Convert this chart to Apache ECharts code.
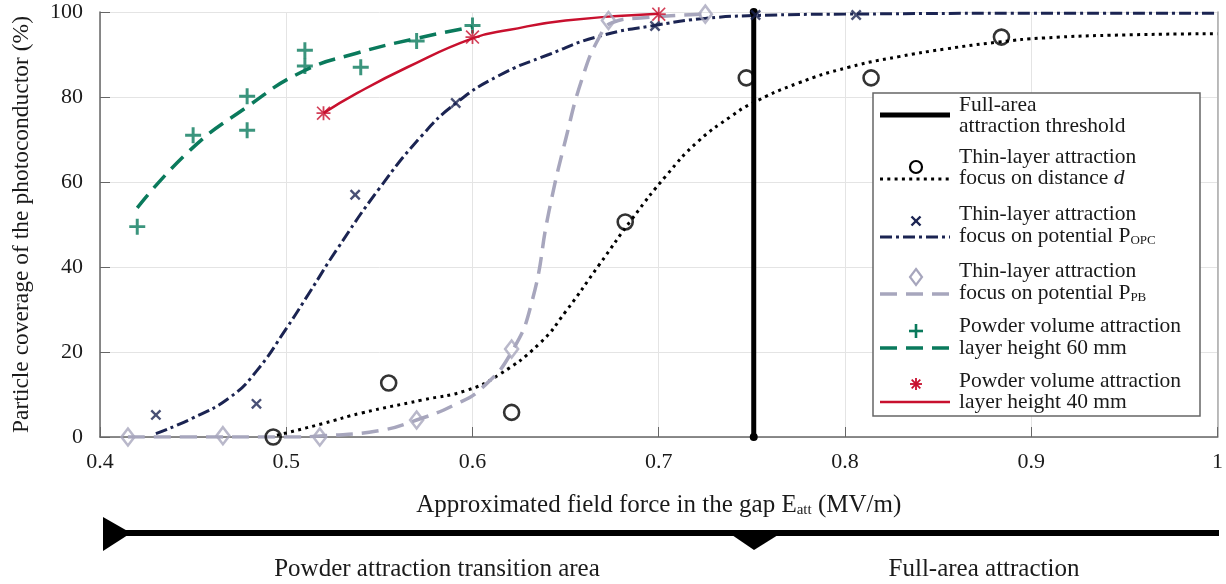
<!DOCTYPE html>
<html>
<head>
<meta charset="utf-8">
<title>Particle coverage vs field force</title>
<script src="https://cdn.jsdelivr.net/npm/echarts@6/dist/echarts.min.js"></script>
<style>
  html, body { margin: 0; padding: 0; background: #fff; }
  #chart { width: 1226px; height: 584px; }
</style>
</head>
<body>
<div id="chart"></div>
<script>
// ===== data =====
const X_MIN = 0.4, X_MAX = 1, X_STEP = 0.1
const Y_MIN = 0, Y_MAX = 100, Y_STEP = 20

// full-area attraction threshold
const thresholdLine = [[0.751, 0], [0.751, 100]]

// thin layer, focus on distance d
const distPoints = [[0.493, 0], [0.555, 12.7], [0.621, 5.8], [0.682, 50.6], [0.747, 84.5], [0.814, 84.5], [0.884, 94.1]]
const distFit = [[0.495, 0.4], [0.52, 3.2], [0.54, 5.6], [0.573, 8.7], [0.597, 11], [0.614, 14.6], [0.636, 22], [0.65, 29.5],
  [0.668, 40.5], [0.686, 51.5], [0.704, 61.5], [0.721, 69.5], [0.739, 75.5], [0.75, 78.5], [0.775, 83.3], [0.802, 87],
  [0.829, 89.5], [0.854, 91.3], [0.882, 92.9], [0.907, 93.9], [0.95, 94.6], [1.0, 94.9]]

// thin layer, focus on potential P_OPC
const opcPoints = [[0.43, 5.2], [0.484, 7.8], [0.537, 57], [0.591, 78.6], [0.698, 96.7], [0.752, 99.3], [0.806, 99.3]]
const opcFit = [[0.43, 0.8], [0.45, 4.5], [0.47, 9.4], [0.484, 15.5], [0.5, 25.5], [0.5125, 34], [0.527, 44], [0.55, 58.5],
  [0.573, 71], [0.591, 78.5], [0.614, 85], [0.641, 90], [0.668, 94.3], [0.7, 97], [0.725, 98.5], [0.754, 99.2],
  [0.8, 99.5], [0.9, 99.7], [1.0, 99.7]]

// thin layer, focus on potential P_PB
const pbPoints = [[0.415, 0], [0.466, 0.3], [0.518, 0], [0.57, 4], [0.621, 20.7], [0.673, 98], [0.725, 99.5]]
const pbFit = [[0.415, 0], [0.45, 0], [0.5, 0], [0.52, 0.3], [0.55, 1.5], [0.57, 4], [0.59, 7.5], [0.605, 11.5],
  [0.621, 20], [0.632, 32], [0.641, 53], [0.65, 70], [0.659, 84.5], [0.668, 94], [0.675, 97.5], [0.69, 98.6], [0.725, 99.5]]

// powder volume, layer height 60 mm
const h60Points = [[0.42, 49.5], [0.45, 71], [0.479, 80.2], [0.479, 72.2], [0.51, 91], [0.51, 87.3], [0.54, 87], [0.57, 93.2], [0.6, 96.8]]
const h60Fit = [[0.42, 53.9], [0.4484, 67.5], [0.4787, 77.6], [0.5088, 86], [0.5377, 90.3], [0.57, 93.8], [0.6, 96.5]]

// powder volume, layer height 40 mm
const h40Points = [[0.52, 76.2], [0.6, 94.1], [0.7, 99.5]]
const h40Fit = [[0.52, 76.2], [0.538, 80.9], [0.565, 87], [0.6, 93.8], [0.62, 95.8], [0.65, 98], [0.7, 99.6]]

// ===== styles =====
const FONT = '"Liberation Serif", "Times New Roman", serif'
const TXT = '#1a1a1a'
const C_NAVY = '#1b2452'
const C_GRAY = '#a7a6bd'
const C_GREEN = '#0a7a5c'
const C_RED = '#c8102e'

const PLUS = 'path://M5.7,0H8.3V14H5.7Z M0,5.7H14V8.3H0Z'
const STAR = 'path://M6.1,0H7.9V14H6.1Z M0,6.1H14V7.9H0Z M0,1.2L1.2,0L14,12.8L12.8,14Z M12.8,0L14,1.2L1.2,14L0,12.8Z'

function fitLine(name, data, color, width, type) {
  return {
    name, type: 'line', data, showSymbol: false, smooth: 0.5,
    lineStyle: { color, width, type }, z: 3, silent: true,
  }
}

function markers(name, data, opts) {
  return Object.assign({ name, type: 'scatter', data, z: 5, silent: true }, opts)
}

// ===== legend (drawn as graphic) =====
const LEG_X = 873, LEG_Y = 93, LEG_W = 327, LEG_H = 323
const TX = 959, L1 = 880, L2 = 950, MX = 916
const LEG_FONT = '21.5px ' + FONT

function legText(y, text, rich) {
  return {
    type: 'text', x: TX, y, z: 101,
    style: { text, font: LEG_FONT, fill: TXT, verticalAlign: 'middle', rich: rich || {} },
  }
}
function legLine(y, stroke, lineWidth, lineDash) {
  return {
    type: 'line', z: 101, shape: { x1: L1, y1: y, x2: L2, y2: y },
    style: { stroke, lineWidth, lineDash: lineDash || null },
  }
}
function seg(x1, y1, x2, y2, stroke, w) {
  return { type: 'line', z: 101, shape: { x1, y1, x2, y2 }, style: { stroke, lineWidth: w } }
}

const subRich = {
  sub: { fontSize: 13, fontFamily: FONT, fill: TXT, verticalAlign: 'bottom', padding: [10, 0, 0, 0] },
  it: { fontStyle: 'italic', fontSize: 21.5, fontFamily: FONT, fill: TXT },
}

const legendGraphic = [
  { type: 'rect', z: 100, shape: { x: LEG_X, y: LEG_Y, width: LEG_W, height: LEG_H },
    style: { fill: '#fff', stroke: '#666', lineWidth: 1.5 } },
  // threshold
  legLine(115, '#000', 5),
  legText(105, 'Full-area'),
  legText(126, 'attraction threshold'),
  // distance d
  { type: 'circle', z: 101, shape: { cx: MX, cy: 167, r: 6 }, style: { fill: 'none', stroke: '#000', lineWidth: 2.2 } },
  legLine(179, '#000', 3, [3, 4.3]),
  legText(157, 'Thin-layer attraction'),
  legText(178, 'focus on distance {it|d}', subRich),
  // P_OPC
  seg(MX - 4.5, 216.5, MX + 4.5, 225.5, C_NAVY, 2.4),
  seg(MX - 4.5, 225.5, MX + 4.5, 216.5, C_NAVY, 2.4),
  legLine(237, C_NAVY, 3, [12, 4, 3, 4]),
  legText(214, 'Thin-layer attraction'),
  legText(236, 'focus on potential P{sub|OPC}', subRich),
  // P_PB
  { type: 'polygon', z: 101, shape: { points: [[MX, 269], [MX + 6, 277], [MX, 285], [MX - 6, 277]] },
    style: { fill: 'none', stroke: C_GRAY, lineWidth: 2.2 } },
  legLine(294, C_GRAY, 3.5, [17, 9]),
  legText(271, 'Thin-layer attraction'),
  legText(293, 'focus on potential P{sub|PB}', subRich),
  // 60 mm
  seg(MX - 7, 331, MX + 7, 331, C_GREEN, 2.6),
  seg(MX, 324, MX, 338, C_GREEN, 2.6),
  legLine(348, C_GREEN, 3.5, [17, 9]),
  legText(326, 'Powder volume attraction'),
  legText(348, 'layer height 60 mm'),
  // 40 mm
  seg(MX - 6, 384, MX + 6, 384, C_RED, 1.8),
  seg(MX, 378, MX, 390, C_RED, 1.8),
  seg(MX - 4.3, 379.7, MX + 4.3, 388.3, C_RED, 1.8),
  seg(MX - 4.3, 388.3, MX + 4.3, 379.7, C_RED, 1.8),
  legLine(402, C_RED, 2.5),
  legText(381, 'Powder volume attraction'),
  legText(402, 'layer height 40 mm'),
]

// ===== bottom arrow with region labels =====
const bottomGraphic = [
  { type: 'line', shape: { x1: 110, y1: 533, x2: 1219, y2: 533 }, style: { stroke: '#000', lineWidth: 6 } },
  { type: 'polygon', shape: { points: [[103, 517], [103, 551], [131, 533]] }, style: { fill: '#000' } },
  { type: 'polygon', shape: { points: [[732, 535], [778, 535], [754, 550]] }, style: { fill: '#000' } },
  { type: 'text', x: 437, y: 569, style: { text: 'Powder attraction transition area', font: '25px ' + FONT, fill: TXT, align: 'center', verticalAlign: 'middle' } },
  { type: 'text', x: 984, y: 569, style: { text: 'Full-area attraction', font: '25px ' + FONT, fill: TXT, align: 'center', verticalAlign: 'middle' } },
]

// ===== chart =====
const chart = echarts.init(document.getElementById('chart'))

const option = {
  animation: false,
  backgroundColor: '#fff',
  textStyle: { fontFamily: FONT },
  grid: { left: 100, right: 6, top: 12, bottom: 147 },
  xAxis: {
    type: 'value', min: X_MIN, max: X_MAX, interval: X_STEP,
    name: 'Approximated field force in the gap E{sub|att} (MV/m)',
    nameLocation: 'middle', nameGap: 55,
    nameTextStyle: {
      fontFamily: FONT, fontSize: 25, color: TXT,
      rich: { sub: { fontSize: 15, fontFamily: FONT, verticalAlign: 'bottom', padding: [11, 0, 0, 0], color: TXT } },
    },
    axisLine: { show: true, onZero: false, lineStyle: { color: '#666', width: 1.5 } },
    axisTick: { show: true, inside: true, length: 10, lineStyle: { color: '#666' } },
    axisLabel: { fontFamily: FONT, fontSize: 22, color: TXT, margin: 14 },
    splitLine: { show: true, lineStyle: { color: '#e4e4e4', width: 1 } },
  },
  yAxis: [{
    type: 'value', min: Y_MIN, max: Y_MAX, interval: Y_STEP,
    name: 'Particle coverage of the photoconductor (%)',
    nameLocation: 'middle', nameGap: 66,
    nameTextStyle: { fontFamily: FONT, fontSize: 23.5, color: TXT },
    axisLine: { show: true, lineStyle: { color: '#666', width: 1.5 } },
    axisTick: { show: true, inside: true, length: 10, lineStyle: { color: '#666' } },
    axisLabel: { fontFamily: FONT, fontSize: 22, color: TXT, margin: 17 },
    splitLine: { show: true, lineStyle: { color: '#e4e4e4', width: 1 } },
  }, {
    type: 'value', position: 'right', min: Y_MIN, max: Y_MAX,
    axisLine: { show: true, lineStyle: { color: '#a8a8a8', width: 1.5 } },
    axisTick: { show: false }, axisLabel: { show: false }, splitLine: { show: false },
  }],
  series: [
    fitLine('distFit', distFit, '#000', 3, [3, 4.3]),
    fitLine('opcFit', opcFit, C_NAVY, 3, [12, 4, 3, 4]),
    fitLine('pbFit', pbFit, C_GRAY, 3.5, [17, 9]),
    fitLine('h60Fit', h60Fit, C_GREEN, 3.5, [17, 9]),
    fitLine('h40Fit', h40Fit, C_RED, 2.5, 'solid'),
    {
      name: 'threshold', type: 'line', data: thresholdLine, z: 4, silent: true,
      symbol: 'circle', symbolSize: 8, itemStyle: { color: '#000' },
      lineStyle: { color: '#000', width: 5 },
    },
    markers('distPoints', distPoints, {
      symbol: 'circle', symbolSize: 15,
      itemStyle: { color: 'rgba(0,0,0,0)', borderColor: '#000', borderWidth: 2.6 },
    }),
    markers('opcPoints', opcPoints, {
      symbol: PLUS, symbolSize: 13, symbolRotate: 45, itemStyle: { color: C_NAVY },
    }),
    markers('pbPoints', pbPoints, {
      symbol: 'diamond', symbolSize: [13, 17],
      itemStyle: { color: 'rgba(0,0,0,0)', borderColor: C_GRAY, borderWidth: 2.6 },
    }),
    markers('h60Points', h60Points, {
      symbol: PLUS, symbolSize: 16, itemStyle: { color: C_GREEN },
    }),
    markers('h40Points', h40Points, {
      symbol: STAR, symbolSize: 14, itemStyle: { color: C_RED },
    }),
  ],
  graphic: legendGraphic.concat(bottomGraphic),
}

chart.setOption(option)
</script>
</body>
</html>
